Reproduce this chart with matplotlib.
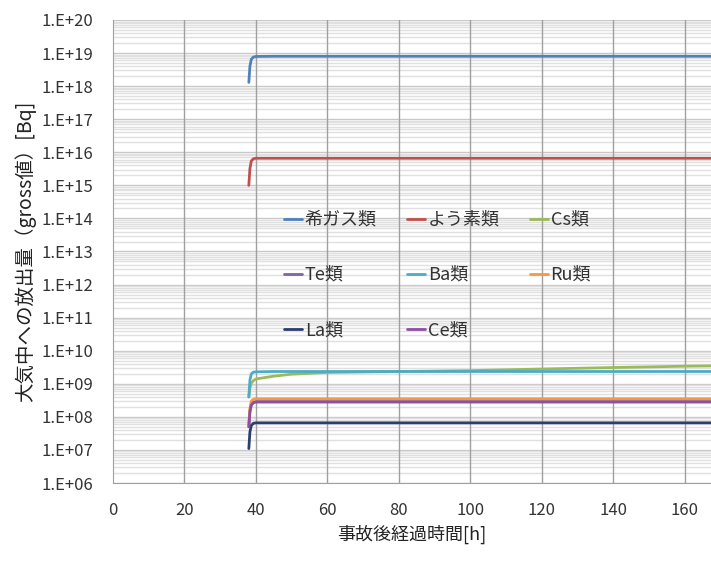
import math
import matplotlib
matplotlib.use("Agg")
import matplotlib.pyplot as plt
from matplotlib.ticker import LogLocator, FuncFormatter, NullFormatter

plt.rcParams['font.family'] = ['Noto Sans CJK JP', 'DejaVu Sans']

# time points [h]
t = [38.0, 38.3, 38.7, 39.3, 40.0, 45.0, 50.0, 60.0, 80.0, 100.0, 120.0, 140.0, 160.0, 170.0]

noble_gas = [1.3e18, 4.0e18, 6.5e18, 7.6e18, 7.9e18, 8.0e18, 8.0e18, 8.0e18, 8.0e18, 8.0e18, 8.0e18, 8.0e18, 8.0e18, 8.0e18]
iodine    = [1.0e15, 3.2e15, 5.5e15, 6.4e15, 6.6e15, 6.6e15, 6.6e15, 6.6e15, 6.6e15, 6.6e15, 6.6e15, 6.6e15, 6.6e15, 6.6e15]
cs        = [4.0e8, 7.5e8, 1.05e9, 1.25e9, 1.4e9, 1.7e9, 1.95e9, 2.2e9, 2.35e9, 2.5e9, 2.8e9, 3.1e9, 3.4e9, 3.5e9]
te        = [5.0e7, 1.5e8, 2.4e8, 2.8e8, 2.9e8, 2.9e8, 2.9e8, 2.9e8, 2.9e8, 2.9e8, 2.9e8, 2.9e8, 2.9e8, 2.9e8]
ba        = [4.0e8, 1.3e9, 2.0e9, 2.25e9, 2.3e9, 2.35e9, 2.35e9, 2.35e9, 2.35e9, 2.35e9, 2.35e9, 2.35e9, 2.35e9, 2.35e9]
ru        = [6.0e7, 1.8e8, 3.0e8, 3.4e8, 3.5e8, 3.5e8, 3.5e8, 3.5e8, 3.5e8, 3.5e8, 3.5e8, 3.5e8, 3.5e8, 3.5e8]
la        = [1.1e7, 3.5e7, 5.5e7, 6.4e7, 6.6e7, 6.6e7, 6.6e7, 6.6e7, 6.6e7, 6.6e7, 6.6e7, 6.6e7, 6.6e7, 6.6e7]
ce        = [5.0e7, 1.4e8, 2.3e8, 2.7e8, 2.8e8, 2.8e8, 2.8e8, 2.8e8, 2.8e8, 2.8e8, 2.8e8, 2.8e8, 2.8e8, 2.8e8]

labels = ['希ガス類', 'よう素類', 'Cs類', 'Te類', 'Ba類', 'Ru類', 'La類', 'Ce類']
series = [noble_gas, iodine, cs, te, ba, ru, la, ce]
colors = ['#4F81BD', '#C0504D', '#9BBB59', '#8064A2', '#4BACC6', '#F79646', '#2C3E6E', '#8E4FA0']

x_ticks = [0, 20, 40, 60, 80, 100, 120, 140, 160]

fig = plt.figure(figsize=(7.11, 5.63), dpi=100)
ax = fig.add_axes([113/711, 1 - 483/563, 1 - 113/711, (483 - 20)/563])

handles = {}
for lab, vals, col in zip(labels, series, colors):
    h, = ax.plot(t, vals, color=col, lw=2.0, solid_capstyle='round', zorder=4)
    handles[lab] = h

ax.set_yscale('log')
ax.set_ylim(1e6, 1e20)
ax.set_xlim(0, 167.3)
ax.set_xticks(x_ticks)
ax.yaxis.set_major_locator(LogLocator(base=10, numticks=20))
ax.yaxis.set_minor_locator(LogLocator(base=10, subs=range(2, 10), numticks=200))
ax.yaxis.set_minor_formatter(NullFormatter())
ax.yaxis.set_major_formatter(FuncFormatter(lambda v, p: '1.E+%02d' % round(math.log10(v))))

ax.grid(which='major', axis='y', color='#c8c8c8', lw=1.0, zorder=1)
ax.grid(which='minor', axis='y', color='#e0e0e0', lw=1.0, zorder=1)
for xv in x_ticks[1:]:
    ax.axvline(xv, color='#a0a0a0', lw=1.0, zorder=2)

ax.tick_params(axis='both', which='both', length=0, labelsize=12, colors='#333333')
ax.tick_params(axis='y', pad=14)
ax.tick_params(axis='x', pad=14)
for s in ['top', 'right']:
    ax.spines[s].set_visible(False)
for s in ['left', 'bottom']:
    ax.spines[s].set_color('#a0a0a0')
    ax.spines[s].set_zorder(3)

ax.set_xlabel('事故後経過時間[h]', fontsize=13, color='#222222', labelpad=4)
ax.set_ylabel('大気中への放出量（gross値）[Bq]', fontsize=14, color='#222222', labelpad=4)

order = ['希ガス類', 'Te類', 'La類', 'よう素類', 'Ba類', 'Ce類', 'Cs類', 'Ru類']
leg = ax.legend([handles[k] for k in order], order, ncol=3, loc='upper left',
                bbox_to_anchor=(284/711, 1 - 211/563), bbox_transform=fig.transFigure,
                frameon=False, fontsize=13, handlelength=1.0, handletextpad=0.15,
                labelspacing=2.05, columnspacing=1.67, borderpad=0, borderaxespad=0)
for txt in leg.get_texts():
    txt.set_color('#333333')

fig.savefig('out.png', dpi=100)
